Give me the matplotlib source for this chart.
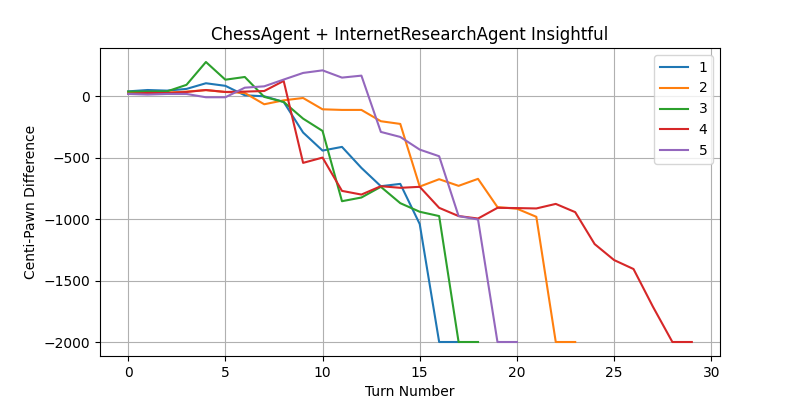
import matplotlib
matplotlib.use("Agg")
import matplotlib.pyplot as plt

s1 = [40, 51, 46, 60, 106, 85, 8, 0, -46, -295, -442, -412, -583, -732, -713, -1040, -2000, -2000]
s2 = [35, 30, 30, 38, 50, 35, 27, -65, -33, -14, -106, -111, -111, -203, -225, -735, -675, -729, -672, -902, -915, -981, -2000, -2000]
s3 = [38, 38, 40, 93, 279, 135, 157, -5, -46, -182, -282, -854, -824, -737, -870, -940, -975, -2000, -2000]
s4 = [19, 27, 26, 35, 51, 35, 38, 43, 125, -542, -499, -770, -800, -732, -745, -737, -908, -975, -995, -908, -910, -913, -876, -943, -1203, -1333, -1406, -1713, -2000, -2000]
s5 = [19, 14, 19, 19, -8, -8, 70, 81, 136, 190, 211, 152, 168, -290, -331, -434, -488, -975, -1003, -2000, -2000]
series = [s1, s2, s3, s4, s5]
labels = ["1", "2", "3", "4", "5"]

fig, ax = plt.subplots(figsize=(8, 4), dpi=100)
for s, lab in zip(series, labels):
    ax.plot(range(len(s)), s, label=lab)
ax.set_title("ChessAgent + InternetResearchAgent Insightful")
ax.set_xlabel("Turn Number")
ax.set_ylabel("Centi-Pawn Difference")
ax.grid(True)
ax.legend()
fig.savefig("out.png")
